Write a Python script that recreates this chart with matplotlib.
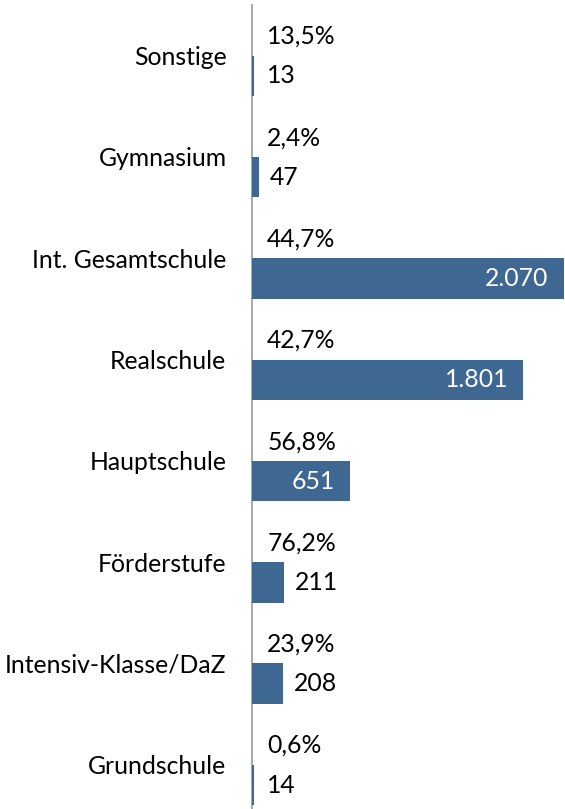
import matplotlib
matplotlib.use("Agg")
import matplotlib.pyplot as plt
import numpy as np

categories = ["Sonstige", "Gymnasium", "Int. Gesamtschule", "Realschule",
              "Hauptschule", "Förderstufe", "Intensiv-Klasse/DaZ", "Grundschule"]
counts = [13, 47, 2070, 1801, 651, 211, 208, 14]
shares = [13.5, 2.4, 44.7, 42.7, 56.8, 76.2, 23.9, 0.6]

BAR = "#3e6791"
plt.rcParams["font.family"] = ["Lato", "DejaVu Sans"]
FS = 17.8


def de_int(v):
    return f"{v:,}".replace(",", ".")


def de_pct(v):
    return f"{v:.1f}%".replace(".", ",")


W, H = 565, 809
fig = plt.figure(figsize=(W / 100, H / 100), dpi=100)
left = 251.5 / W
top = 5 / H
ax = fig.add_axes([left, 0, 1 - left, 1 - top])

y = np.arange(len(categories))
ax.barh(y + 0.2, counts, height=0.4, color=BAR, zorder=3)
ax.set_xlim(-4, 2079)
ax.set_ylim(-0.5 + (H - 5) / 101.3, -0.5)

ax.set_yticks(y)
ax.set_yticklabels(categories, fontsize=FS)
ax.tick_params(axis="y", length=0, pad=18)
ax.set_xticks([])
for s in ["top", "right", "bottom"]:
    ax.spines[s].set_visible(False)
ax.spines["left"].set_color("#a0a0a0")
ax.spines["left"].set_linewidth(1.3)

for yi, c, p in zip(y, counts, shares):
    ax.text(100, yi - 0.19, de_pct(p), fontsize=FS, va="center", ha="left")
    if c >= 500:
        ax.text(c - 100, yi + 0.2, de_int(c), fontsize=FS, va="center",
                ha="right", color="white")
    else:
        ax.text(max(c + 70, 100), yi + 0.2, de_int(c), fontsize=FS,
                va="center", ha="left")

fig.savefig("out.png", dpi=100)
